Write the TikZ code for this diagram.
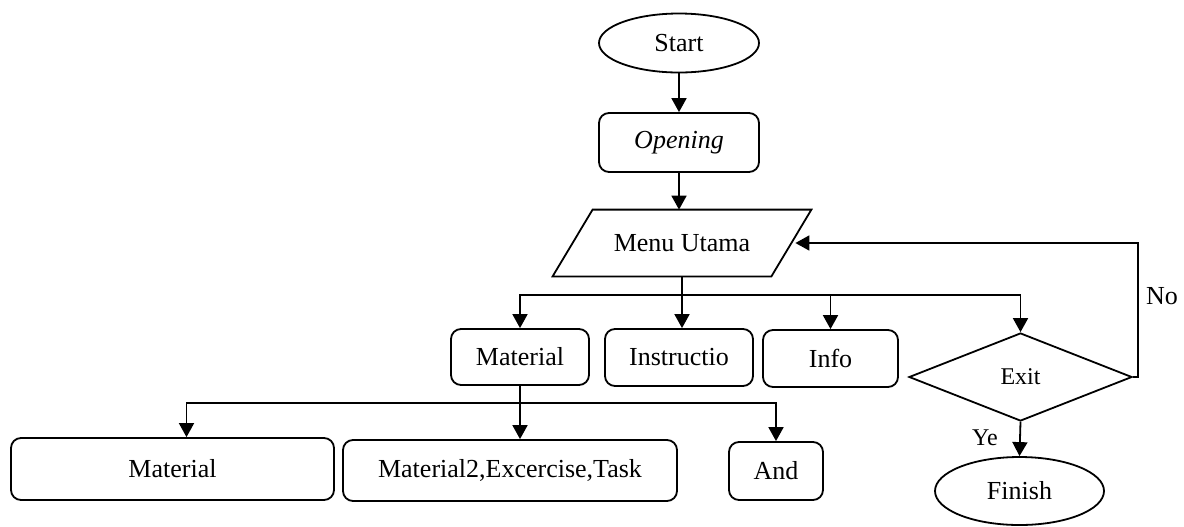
\documentclass[tikz,border=0pt]{standalone}
\usepackage{fontspec}
\setmainfont{Liberation Serif}
\usetikzlibrary{shapes.geometric, arrows.meta, positioning}
\tikzset{
  flowbox/.style={
    draw, rounded corners=5pt, line width=0.9pt, align=center,
    font=\fontsize{13}{15}\selectfont, inner sep=2pt
  },
  flowend/.style={
    draw, ellipse, line width=0.9pt, inner sep=0pt,
    font=\fontsize{13}{15}\selectfont
  },
  flowarrow/.style={
    -{Triangle[length=7pt, width=7.5pt]}, line width=0.9pt
  },
  flowline/.style={line width=0.9pt},
  flowlabel/.style={font=\fontsize{13}{15}\selectfont},
}

\begin{document}
\begin{tikzpicture}[
  x=0.5pt, y=-0.5pt,
  menubox/.style={minimum width=109pt, minimum height=33pt, inner sep=0pt, font=\fontsize{13}{15}\selectfont},
  decision/.style={draw, diamond, line width=0.9pt, minimum width=111.5pt, minimum height=44pt, inner sep=0pt, font=\fontsize{12}{14}\selectfont},
]
  \useasboundingbox (0,0) rectangle (1184,526);

  % === Main column ===
  \node[flowend, minimum width=80pt, minimum height=29.5pt] (start) at (679, 43) {Start};
  \node[flowbox, minimum width=80pt, minimum height=29.5pt] (opening) at (679, 142.5) {\textit{Opening}};
  \node[menubox] (menu) at (682, 243) {Menu Utama};
  \draw[flowline] ([xshift=-10pt]menu.south west) -- ([xshift=10pt]menu.north west)
    -- ([xshift=10pt]menu.north east) -- ([xshift=-10pt]menu.south east) -- cycle;

  % === Menu options ===
  \node[flowbox, minimum width=69pt, minimum height=28pt] (material) at (520, 357) {Material};
  \node[flowbox, minimum width=74pt, minimum height=28.5pt] (instr) at (679, 357.5) {Instructio};
  \node[flowbox, minimum width=67.5pt, minimum height=28.5pt] (info) at (830.5, 358.5) {Info};
  \node[decision] (exit) at (1020.5, 377) {Exit};
  \node[flowend, minimum width=84.5pt, minimum height=34pt] (finish) at (1019.5, 491) {Finish};

  % === Material content ===
  \node[flowbox, minimum width=161.5pt, minimum height=31pt] (materialone) at (172.5, 469) {Material};
  \node[flowbox, minimum width=167pt, minimum height=30.5pt] (materialtwo) at (510, 470.5) {Material2,Excercise,Task};
  \node[flowbox, minimum width=47pt, minimum height=29pt] (andbox) at (776, 471) {And};

  % === Labels ===
  \node[flowlabel] (nolabel) at (1162, 296) {No};
  \node[font=\fontsize{12}{14}\selectfont] (yelabel) at (985, 438) {Ye};

  % === Arrows ===
  \draw[flowarrow] (start) -- (opening);
  \draw[flowarrow] (opening.south) -- (opening.south |- menu.north);
  \draw[flowline] (menu.south) -- ++(0,18.5) coordinate (menusplit);
  \draw[flowarrow] (menusplit) -| (material.north);
  \draw[flowarrow] (menusplit) -- (menusplit |- instr.north);
  \draw[flowarrow] (menusplit) -| (info.north);
  \draw[flowarrow] (menusplit) -| (exit.north);
  \draw[flowarrow] (material.south) -- (material.south |- materialtwo.north);
  \draw[flowline] (material.south) -- ++(0,17) coordinate (matsplit);
  \draw[flowarrow] (matsplit) -| ([xshift=7pt]materialone.north);
  \draw[flowarrow] (matsplit) -| (andbox.north);
  \draw[flowarrow] (exit.east) -- ++(5,0) |- ([xshift=2pt]menu.east);
  \draw[flowarrow] (exit.south) -- (finish.north);

\end{tikzpicture}
\end{document}
